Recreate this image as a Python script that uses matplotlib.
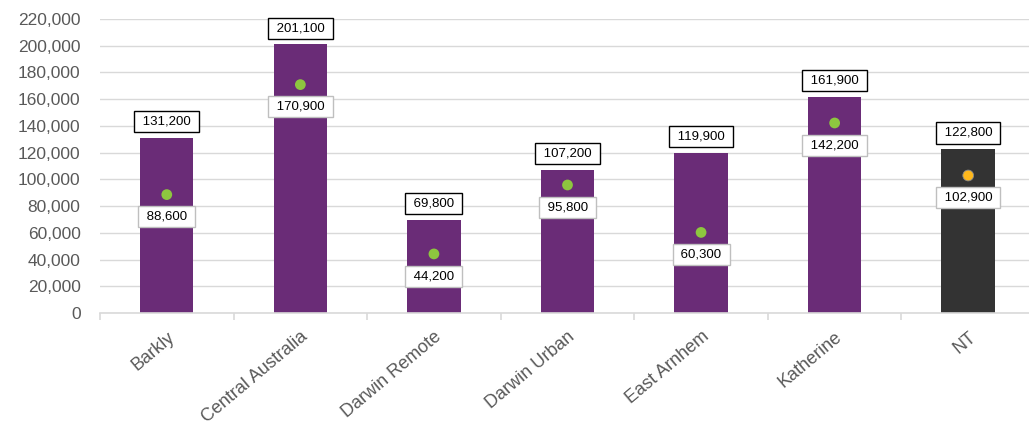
import matplotlib
matplotlib.use("Agg")
import matplotlib.pyplot as plt
from matplotlib.ticker import FuncFormatter, FixedLocator
import numpy as np

plt.rcParams['font.family'] = ['Liberation Sans', 'DejaVu Sans']

categories = ["Barkly", "Central Australia", "Darwin Remote", "Darwin Urban",
              "East Arnhem", "Katherine", "NT"]
bar_values = [131200, 201100, 69800, 107200, 119900, 161900, 122800]
dot_values = [88600, 170900, 44200, 95800, 60300, 142200, 102900]

purple = "#6A2C77"
dark = "#333333"
green = "#8DC63F"
orange = "#FFB81C"

bar_colors = [purple] * 6 + [dark]
dot_colors = [green] * 6 + [orange]

W, H = 1029, 423
fig = plt.figure(figsize=(W / 100, H / 100), dpi=100)
ax = fig.add_axes([100 / W, (H - 313) / H, 935 / W, (313 - 19) / H])

x = np.arange(len(categories))
ax.bar(x, bar_values, width=0.4, color=bar_colors, zorder=2)
ax.scatter(x, dot_values, s=60, c=dot_colors, zorder=4, linewidths=0.6,
           edgecolors=["none"] * 6 + ["#8A8A8A"])

ax.set_xlim(-0.5, len(categories) - 0.5)
ax.set_ylim(0, 220000)
ax.set_yticks(np.arange(0, 220001, 20000))
ax.yaxis.set_major_formatter(FuncFormatter(lambda v, p: f"{int(v):,}"))
ax.grid(axis='y', color="#D9D9D9", linewidth=1.0, zorder=0)
for s in ["left", "right", "top"]:
    ax.spines[s].set_visible(False)
ax.spines["bottom"].set_color("#D9D9D9")
ax.spines["bottom"].set_linewidth(1.2)
ax.tick_params(axis='y', length=0, pad=14, labelsize=12.5, labelcolor="#595959")

ax.set_xticks(x)
ax.set_xticklabels(categories, rotation=40, ha='right', va='top',
                   rotation_mode='anchor', fontsize=13, color="#595959")
ax.tick_params(axis='x', which='major', length=0, pad=11)
ax.xaxis.set_minor_locator(FixedLocator(np.arange(-0.5, len(categories), 1.0)))
ax.tick_params(axis='x', which='minor', length=5, color="#D9D9D9", width=1.2)

for xi, bv, dv in zip(x, bar_values, dot_values):
    ax.annotate(f" {bv:,} ", (xi, bv), xytext=(0, 11.5), textcoords='offset points',
                ha='center', va='center', fontsize=9.5, color="black", zorder=5,
                bbox=dict(boxstyle='square,pad=0.35', fc='white', ec='black', lw=1.0))
    ax.annotate(f" {dv:,} ", (xi, dv), xytext=(0, -16), textcoords='offset points',
                ha='center', va='center', fontsize=9.5, color="black", zorder=5,
                bbox=dict(boxstyle='square,pad=0.35', fc='white', ec='#BFBFBF', lw=1.0))

fig.savefig("out.png", dpi=100)
